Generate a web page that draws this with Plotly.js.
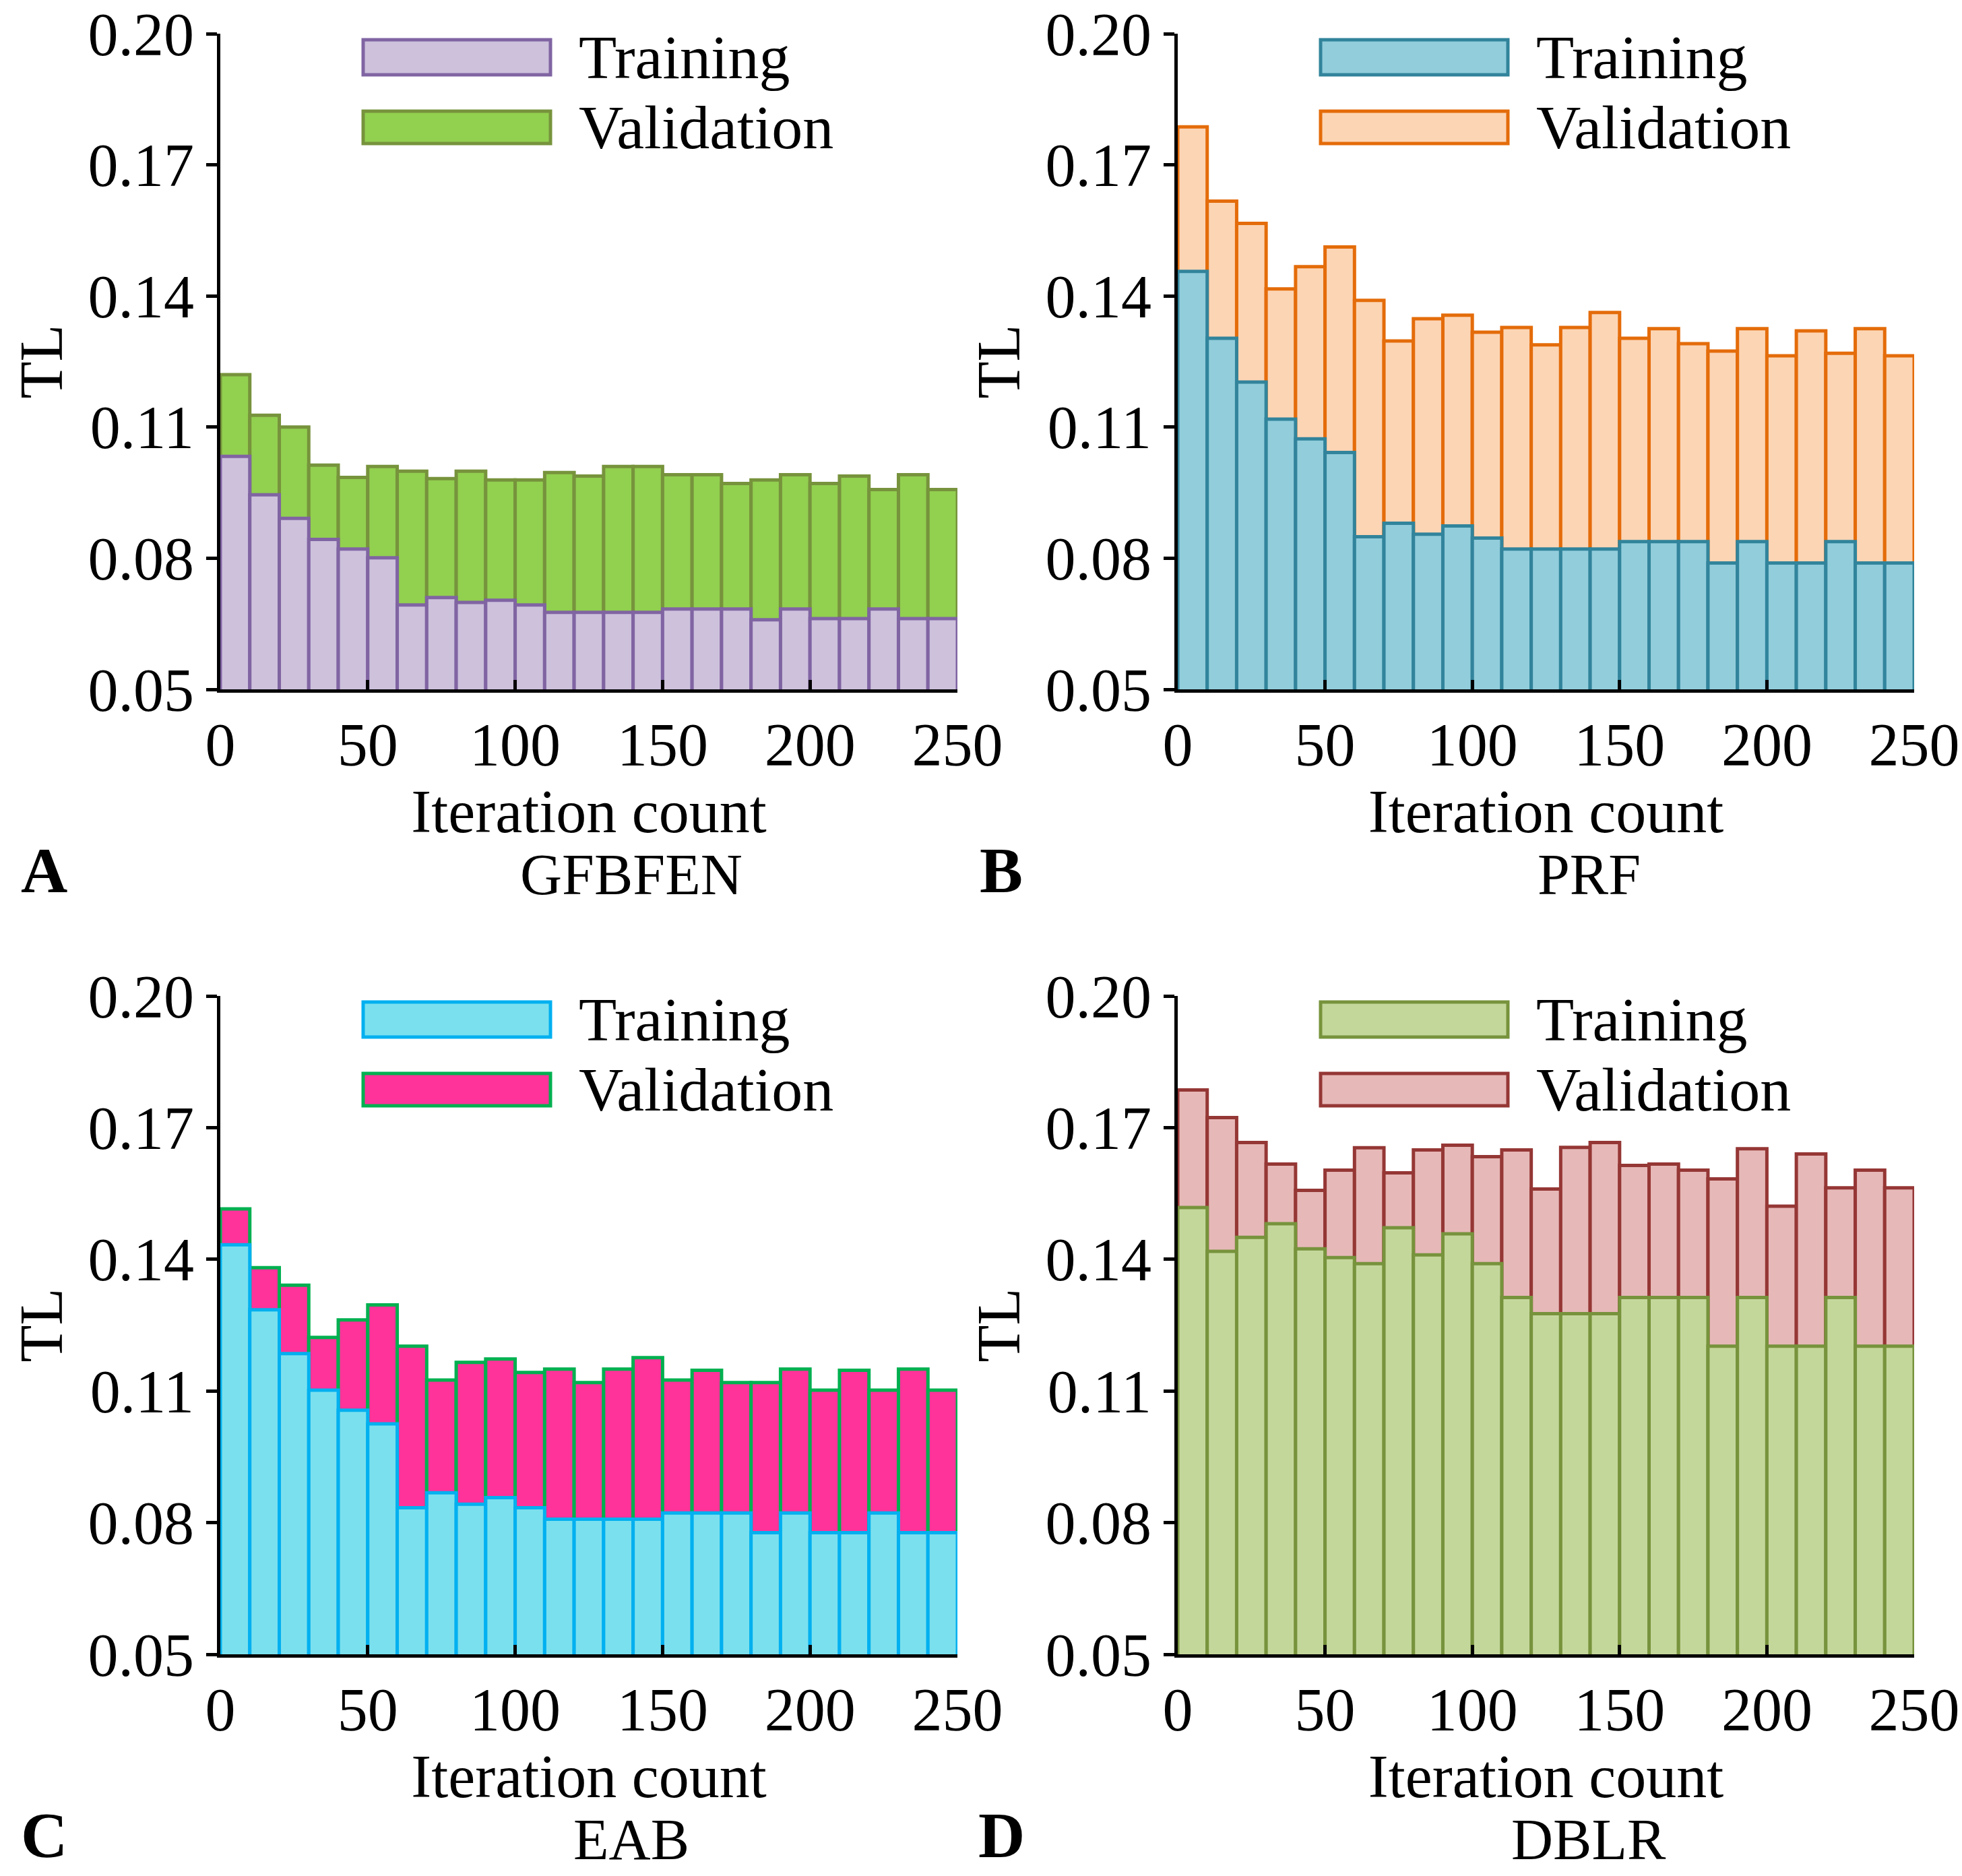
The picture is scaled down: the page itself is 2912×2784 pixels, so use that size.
<!DOCTYPE html>
<html><head><meta charset="utf-8">
<script src="https://cdn.plot.ly/plotly-3.0.1.min.js"></script>
<style>body{margin:0;background:#fff}</style></head>
<body><div id="c" style="width:2912px;height:2784px"></div>
<script>
const iterations = [5,15,25,35,45,55,65,75,85,95,105,115,125,135,145,155,165,175,185,195,205,215,225,235,245];
const trainA = [0.1033,0.0945,0.0891,0.0843,0.0821,0.0801,0.0693,0.0710,0.0699,0.0704,0.0693,0.0676,0.0676,0.0676,0.0676,0.0684,0.0684,0.0684,0.0659,0.0684,0.0662,0.0662,0.0684,0.0662,0.0662];
const validA = [0.1220,0.1127,0.1100,0.1013,0.0985,0.1010,0.0999,0.0982,0.0999,0.0979,0.0979,0.0996,0.0988,0.1010,0.1010,0.0991,0.0991,0.0971,0.0979,0.0991,0.0971,0.0988,0.0957,0.0991,0.0957];
const trainB = [0.1456,0.1303,0.1203,0.1118,0.1073,0.1042,0.0849,0.0880,0.0855,0.0874,0.0846,0.0821,0.0821,0.0821,0.0821,0.0838,0.0838,0.0838,0.0789,0.0838,0.0789,0.0789,0.0838,0.0789,0.0789];
const validB = [0.1787,0.1617,0.1566,0.1416,0.1467,0.1512,0.1390,0.1297,0.1348,0.1356,0.1317,0.1328,0.1288,0.1328,0.1362,0.1303,0.1325,0.1291,0.1274,0.1325,0.1263,0.1320,0.1269,0.1325,0.1263];
const trainC = [0.1433,0.1285,0.1185,0.1102,0.1056,0.1025,0.0834,0.0868,0.0842,0.0857,0.0834,0.0808,0.0808,0.0808,0.0808,0.0822,0.0822,0.0822,0.0777,0.0822,0.0777,0.0777,0.0822,0.0777,0.0777];
const validC = [0.1515,0.1381,0.1341,0.1222,0.1262,0.1296,0.1202,0.1125,0.1165,0.1173,0.1142,0.1150,0.1119,0.1150,0.1176,0.1125,0.1147,0.1119,0.1119,0.1150,0.1102,0.1147,0.1102,0.1150,0.1102];
const trainD = [0.1518,0.1418,0.1450,0.1481,0.1424,0.1404,0.1390,0.1472,0.1410,0.1458,0.1390,0.1313,0.1276,0.1276,0.1276,0.1313,0.1313,0.1313,0.1202,0.1313,0.1202,0.1202,0.1313,0.1202,0.1202];
const validD = [0.1786,0.1723,0.1666,0.1617,0.1557,0.1603,0.1654,0.1597,0.1649,0.1660,0.1634,0.1649,0.1560,0.1655,0.1666,0.1614,0.1617,0.1603,0.1583,0.1652,0.1521,0.1640,0.1563,0.1603,0.1563];
const panelLetters = ['A','B','C','D'];
const modelNames = ['GFBFEN','PRF','EAB','DBLR'];
const seriesNames = ['Training','Validation'];
const xTicks = [0,50,100,150,200,250];
const yTicks = [0.05,0.08,0.11,0.14,0.17,0.20];

const W=2912,H=2784;
const panels = [
 {t:trainA,v:validA,tf:'#cdc1dc',tl:'#8064a2',vf:'#92d050',vl:'#77933c',x0:327,x1:1421,y0:50,y1:1023},
 {t:trainB,v:validB,tf:'#92cddc',tl:'#31849b',vf:'#fcd5b5',vl:'#e46c0a',x0:1748,x1:2841,y0:50,y1:1023},
 {t:trainC,v:validC,tf:'#7be0ee',tl:'#00b0f0',vf:'#ff3399',vl:'#00b050',x0:327,x1:1421,y0:1478,y1:2455},
 {t:trainD,v:validD,tf:'#c4d79b',tl:'#77933c',vf:'#e6b9b8',vl:'#953735',x0:1748,x1:2841,y0:1478,y1:2455}
];
const font = {family:'Liberation Serif, Times New Roman, serif', color:'#000'};
const data=[], shapes=[], annotations=[];
const layout = {width:W,height:H,margin:{l:0,r:0,t:0,b:0},paper_bgcolor:'#fff',plot_bgcolor:'#fff',
  barmode:'overlay',showlegend:false,font:Object.assign({size:90},font)};
const px=x=>x/W, py=y=>1-y/H;
panels.forEach((p,i)=>{
  const n=i+1, xa='x'+(n>1?n:''), ya='y'+(n>1?n:'');
  data.push({type:'bar',x:iterations,y:p.v,base:0,width:10,xaxis:xa,yaxis:ya,name:seriesNames[1],
    marker:{color:p.vf,line:{color:p.vl,width:5}}});
  data.push({type:'bar',x:iterations,y:p.t,base:0,width:10,xaxis:xa,yaxis:ya,name:seriesNames[0],
    marker:{color:p.tf,line:{color:p.tl,width:5}}});
  const ax = {showgrid:false,zeroline:false,showline:true,linewidth:5,linecolor:'#000',
    tickwidth:5,tickcolor:'#000',tickfont:Object.assign({size:90},font)};
  layout['xaxis'+(n>1?n:'')] = Object.assign({},ax,{domain:[px(p.x0),px(p.x1)],range:[0,250],anchor:ya,
    ticks:'inside',ticklen:14,
    tickvals:xTicks,ticktext:xTicks.map(String),title:{text:'Iteration count',font:Object.assign({size:90},font),standoff:0}});
  layout['yaxis'+(n>1?n:'')] = Object.assign({},ax,{domain:[py(p.y1),py(p.y0)],range:[0.05,0.20],anchor:xa,
    ticks:'outside',ticklen:16,
    tickvals:yTicks,ticktext:yTicks.map(v=>v.toFixed(2)),title:{text:'TL',font:Object.assign({size:90},font),standoff:10}});
  const lx0=p.x0+212, lx1=p.x0+490;
  [[p.tf,p.tl,50,102,seriesNames[0]],[p.vf,p.vl,156,204,seriesNames[1]]].forEach(([f,l,a,b,txt])=>{
    const off = p.y0-41;
    shapes.push({type:'rect',xref:'paper',yref:'paper',x0:px(lx0),x1:px(lx1),y0:py(off+b),y1:py(off+a),
      fillcolor:f,line:{color:l,width:5}});
    annotations.push({xref:'paper',yref:'paper',x:px(lx0+318),y:py(off+(a+b)/2),text:txt,showarrow:false,
      xanchor:'left',yanchor:'middle',font:Object.assign({size:92},font)});
  });
  annotations.push({xref:'paper',yref:'paper',x:px(p.x0-262),y:py(p.y1+268),text:'<b>'+panelLetters[i]+'</b>',
    showarrow:false,xanchor:'center',yanchor:'middle',font:Object.assign({size:96},font)});
  annotations.push({xref:'paper',yref:'paper',x:px(p.x0+610),y:py(p.y1+275),text:modelNames[i],
    showarrow:false,xanchor:'center',yanchor:'middle',font:Object.assign({size:86},font)});
});
layout.shapes=shapes; layout.annotations=annotations;
Plotly.newPlot('c',data,layout,{displayModeBar:false});
</script></body></html>
